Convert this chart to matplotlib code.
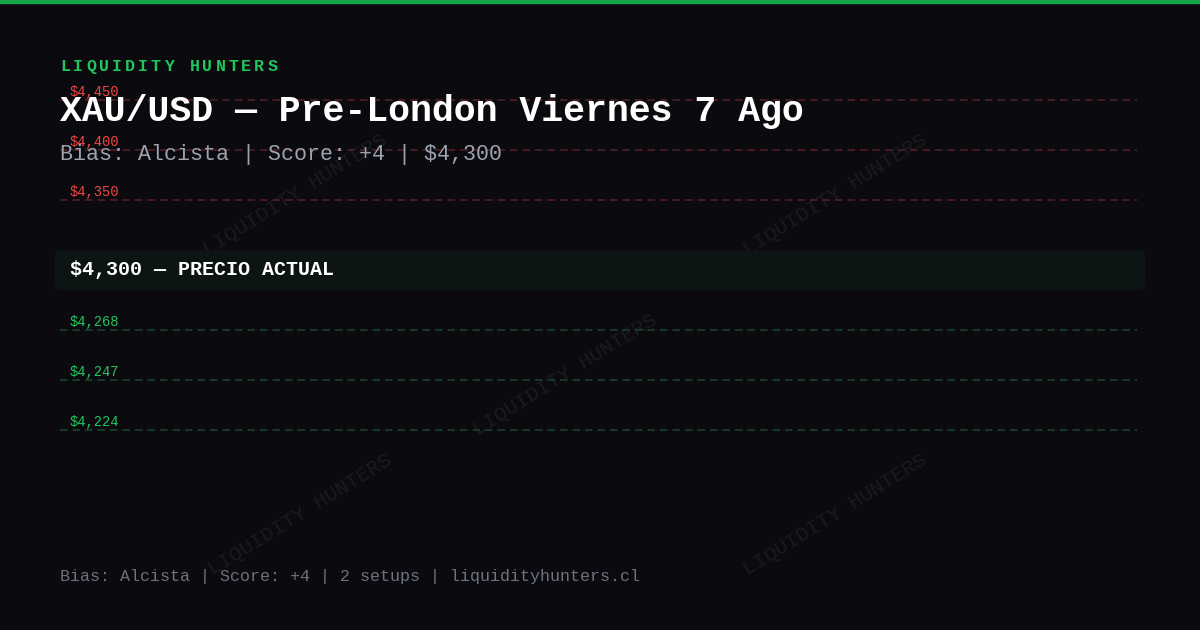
import matplotlib
matplotlib.use("Agg")
import matplotlib.pyplot as plt
from matplotlib.patches import FancyBboxPatch, Rectangle

# levels shown on the card
resistances = ["$4,450", "$4,400", "$4,350"]
current_price = "$4,300"
supports = ["$4,268", "$4,247", "$4,224"]

brand = "LIQUIDITY HUNTERS"
title = "XAU/USD \u2014 Pre-London Viernes 7 Ago"
subtitle = "Bias: Alcista | Score: +4 | $4,300"
footer = "Bias: Alcista | Score: +4 | 2 setups | liquidityhunters.cl"
watermark_spots = [(295, 195), (835, 195), (565, 375), (300, 515), (835, 515)]

BG = "#0b0b0f"
GREEN = "#22c55e"
RED = "#ef4444"
MONO = "Liberation Mono"

fig = plt.figure(figsize=(12, 6.3), dpi=100, facecolor=BG)
ax = fig.add_axes([0, 0, 1, 1])
ax.set_xlim(0, 1200)
ax.set_ylim(630, 0)
ax.axis("off")
ax.set_facecolor(BG)

# top accent bar
ax.add_patch(Rectangle((0, 0), 1200, 3, color="#16a34a", zorder=5))

# watermarks
for wx, wy in watermark_spots:
    ax.text(wx, wy, brand, family=MONO, fontsize=15, color="#1a1a20",
            rotation=32, ha="center", va="center", zorder=1)

# resistance levels
for i, lab in enumerate(resistances):
    y = 100 + 50 * i
    ax.plot([60, 1137], [y, y], color="#4f1f24", lw=1.2, dashes=(4.5, 3), zorder=2)
    ax.text(70, y - 4, lab, family=MONO, fontsize=9.9, color=RED, va="baseline", zorder=3)

# current price band
ax.add_patch(FancyBboxPatch((55, 250), 1090, 40,
                            boxstyle="round,pad=0,rounding_size=4",
                            facecolor="#0c1513", edgecolor="none", zorder=2))
ax.text(70, 275, current_price + " \u2014 PRECIO ACTUAL", family=MONO, fontsize=14.4,
        fontweight="bold", color="white", va="baseline", zorder=3)

# support levels
for i, lab in enumerate(supports):
    y = 330 + 50 * i
    ax.plot([60, 1137], [y, y], color="#19422a", lw=1.2, dashes=(4.5, 3), zorder=2)
    ax.text(70, y - 4, lab, family=MONO, fontsize=9.9, color=GREEN, va="baseline", zorder=3)

# brand with letter spacing
for k, ch in enumerate(brand):
    ax.text(60 + k * 12.95, 71, ch, family=MONO, fontsize=12, fontweight="bold",
            color=GREEN, va="baseline", zorder=4)

ax.text(60, 121, title, family=MONO, fontsize=26.3, fontweight="bold",
        color="white", va="baseline", zorder=4)
ax.text(60, 160, subtitle, family=MONO, fontsize=15.6, color="#9ca3af",
        va="baseline", zorder=4)
ax.text(60, 581, footer, family=MONO, fontsize=12, color="#6b7280",
        va="baseline", zorder=4)

fig.savefig("out.png", dpi=100, facecolor=BG)
